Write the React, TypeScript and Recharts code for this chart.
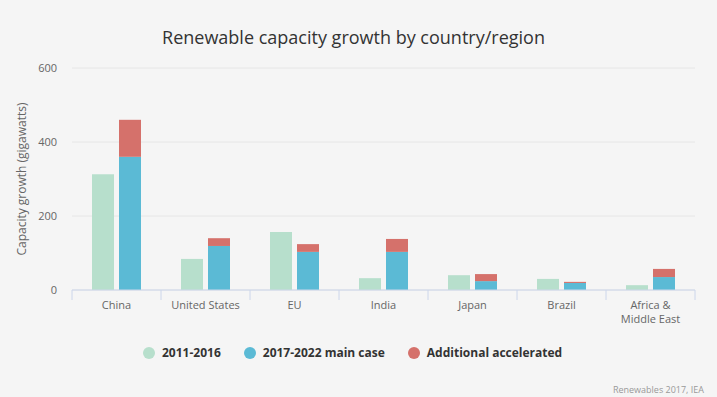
import React from 'react';
import { BarChart, Bar, XAxis, YAxis, CartesianGrid } from 'recharts';

const categories = ['China', 'United States', 'EU', 'India', 'Japan', 'Brazil', 'Africa & Middle East'];
const categoryLines = [['China'], ['United States'], ['EU'], ['India'], ['Japan'], ['Brazil'], ['Africa &', 'Middle East']];
const history = [313, 84, 157, 32, 40, 30, 13];
const mainCase = [360, 119, 103, 103, 24, 19, 35];
const accelerated = [100, 21, 21, 35, 19, 3, 22];
const yTicks = [0, 200, 400, 600];

const seriesNames = ['2011-2016', '2017-2022 main case', 'Additional accelerated'];
const colors = ['#b7dfcc', '#5bbad5', '#d5716b'];

const data = categories.map((c, i) => ({
  name: c,
  history: history[i],
  mainCase: mainCase[i],
  accelerated: accelerated[i],
}));

const FONT = '"Open Sans", sans-serif';

const XTick = (props: any) => {
  const { x, y, payload, index } = props;
  const half = payload && payload.offset ? payload.offset : 44.5;
  const lines = categoryLines[index] || [String(payload.value)];
  return (
    <g>
      <line x1={x - half} x2={x - half} y1={y} y2={y + 10} stroke="#ccd6eb" strokeWidth={1} />
      {index === categories.length - 1 && (
        <line x1={x + half} x2={x + half} y1={y} y2={y + 10} stroke="#ccd6eb" strokeWidth={1} />
      )}
      {lines.map((l: string, k: number) => (
        <text key={k} x={x} y={y + 19 + k * 14} textAnchor="middle" fill="#666666" fontSize={11} fontFamily={FONT}>
          {l}
        </text>
      ))}
    </g>
  );
};

export default function App() {
  return (
    <div style={{ position: 'absolute', left: 0, top: 0, width: 717, height: 397, background: '#f5f5f5', overflow: 'hidden' }}>
      <BarChart
        width={717}
        height={397}
        data={data}
        margin={{ top: 68, right: 22, bottom: 0, left: 0 }}
        barGap={5}
        barSize={22}
      >
        <CartesianGrid horizontal vertical={false} stroke="#e6e6e6" />
        <XAxis
          dataKey="name"
          axisLine={{ stroke: '#ccd6eb' }}
          tickLine={false}
          tickSize={0}
          tickMargin={0}
          interval={0}
          tick={<XTick />}
          height={107}
        />
        <YAxis
          width={72}
          domain={[0, 600]}
          ticks={yTicks}
          axisLine={false}
          tickLine={false}
          tickSize={0}
          tickMargin={15}
          tick={{ fill: '#666666', fontSize: 11, fontFamily: FONT }}
        />
        <Bar dataKey="history" name={seriesNames[0]} stackId="a" fill={colors[0]} isAnimationActive={false} />
        <Bar dataKey="mainCase" name={seriesNames[1]} stackId="b" fill={colors[1]} isAnimationActive={false} />
        <Bar dataKey="accelerated" name={seriesNames[2]} stackId="b" fill={colors[2]} isAnimationActive={false} />
      </BarChart>
      <div style={{ position: 'absolute', top: 24, left: -5, width: 717, textAlign: 'center', fontFamily: FONT, fontSize: 18, color: '#333333', lineHeight: '26px' }}>
        Renewable capacity growth by country/region
      </div>
      <div style={{ position: 'absolute', left: 22, top: 179, width: 0, height: 0 }}>
        <div style={{ position: 'absolute', transform: 'translate(-50%, -50%) rotate(-90deg)', whiteSpace: 'nowrap', fontFamily: FONT, fontSize: 12, color: '#666666', lineHeight: '16px' }}>
          Capacity growth (gigawatts)
        </div>
      </div>
      <div style={{ position: 'absolute', left: 143, top: 345, display: 'flex', fontFamily: FONT, fontSize: 12, fontWeight: 700, color: '#333333', lineHeight: '16px' }}>
        {seriesNames.map((n, i) => (
          <div key={n} style={{ display: 'flex', alignItems: 'center', marginRight: i < 2 ? 23 : 0 }}>
            <span style={{ width: 12, height: 12, borderRadius: 6, background: colors[i], display: 'inline-block', marginRight: 7 }} />
            <span>{n}</span>
          </div>
        ))}
      </div>
      <div style={{ position: 'absolute', right: 13, top: 384, fontFamily: FONT, fontSize: 9, color: '#999999', lineHeight: '12px' }}>
        Renewables 2017, IEA
      </div>
    </div>
  );
}
